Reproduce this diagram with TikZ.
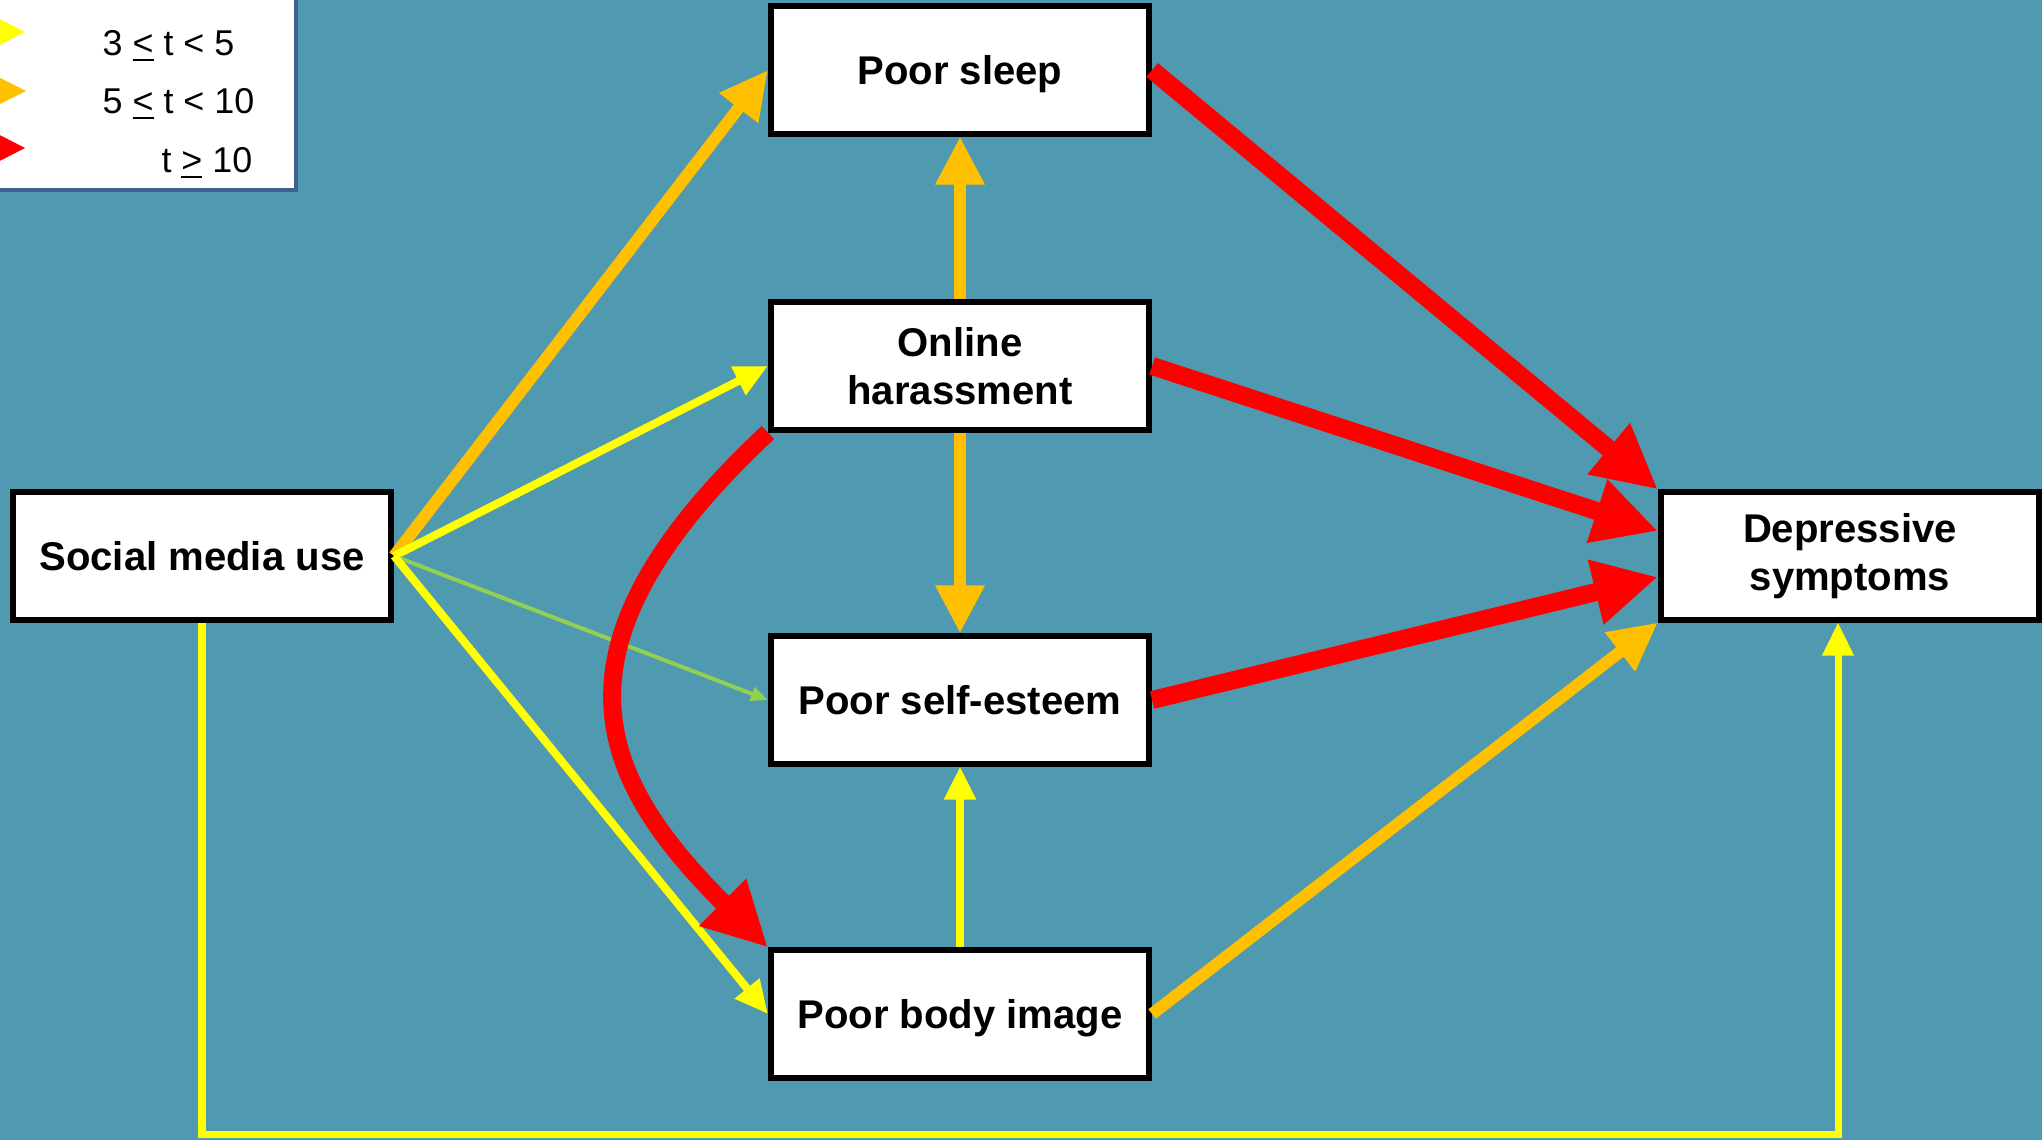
\documentclass[tikz,border=0pt]{standalone}
\usepackage{fontspec}
\setmainfont{Liberation Sans}
\usetikzlibrary{arrows.meta,positioning}
\definecolor{bgteal}{HTML}{4F9AB0}
\definecolor{tyel}{HTML}{FFFF00}
\definecolor{torange}{HTML}{FFC000}
\definecolor{tred}{HTML}{FF0000}
\definecolor{tgreen}{HTML}{92D050}
\definecolor{legframe}{HTML}{3F6190}
\tikzset{
  var/.style    ={rectangle, draw, fill=white, line width=1.7pt,
                  minimum width=3.78cm, minimum height=1.27cm, inner sep=2pt,
                  font=\fontsize{11.4}{13.7}\selectfont\bfseries, align=center},
  oneline/.style={text height=1.05em, text depth=0.21em},
  legtxt/.style ={font=\fontsize{10.2}{12}\selectfont, inner sep=0pt},
  tlow/.style   ={draw=tgreen, line width=0.04cm,
                  -{Triangle[length=0.17cm,width=0.14cm]}},
  tmid/.style   ={draw=tyel, line width=0.08cm,
                  -{Triangle[length=0.33cm,width=0.3cm]}},
  thigh/.style  ={draw=torange, line width=0.12cm,
                  -{Triangle[length=0.48cm,width=0.46cm]}},
  ttop/.style   ={draw=tred, line width=0.18cm,
                  -{Triangle[length=0.64cm,width=0.62cm]}},
}

\begin{document}
\begin{tikzpicture}[x=0.01cm, y=-0.01cm]
\fill[bgteal] (0,0) rectangle (2042,1140);
\useasboundingbox (0,0) rectangle (2042,1140);

% legend
\filldraw[fill=white, draw=legframe, line width=0.04cm] (-30,-30) rectangle (296,190);
\fill[tyel]    (-10,14)  -- (25,32)  -- (-10,50)  -- cycle;
\fill[torange] (-10,73)  -- (26,91)  -- (-10,109) -- cycle;
\fill[tred]    (-10,130) -- (25,148) -- (-10,166) -- cycle;
\node[legtxt, anchor=west] (lg3)  at (102,46)  {3 \underline{<} t < 5};
\node[legtxt, anchor=west] (lg5)  at (102,104) {5 \underline{<} t < 10};
\node[legtxt, anchor=east] (lg10) at (253,163) {t \underline{>} 10};

\node[var, oneline] (smu) at (202,556)  {Social media use};
\node[var, oneline] (ps)  at (960,70)   {Poor sleep};
\node[var]          (oh)  at (960,366)  {Online\\harassment};
\node[var, oneline] (pse) at (960,700)  {Poor self-esteem};
\node[var, oneline] (pbi) at (960,1014) {Poor body image};
\node[var]          (ds)  at (1850,556) {Depressive\\symptoms};
\coordinate (dsb) at ([xshift=-0.12cm]ds.south);

\draw[thigh] (smu.east) -- (ps.west);
\draw[tmid]  (smu.east) -- (oh.west);
\draw[tlow]  (smu.east) -- (pse.west);
\draw[tmid]  (smu.east) -- (pbi.west);
\draw[tmid, line width=0.07cm] (smu.south) -- ++(0,512) -| (dsb);

\draw[thigh] (oh.north) -- (ps.south);
\draw[thigh] (oh.south) -- (pse.north);
\draw[tmid]  (pbi.north) -- (pse.south);
\draw[ttop]  (oh.south west) .. controls (535,650) and (600,780) .. (pbi.north west);

\draw[ttop]  (ps.east) -- (ds.north west);
\draw[ttop]  (oh.east) -- ([yshift=0.25cm]ds.west);
\draw[ttop]  (pse.east) -- ([yshift=-0.21cm]ds.west);
\draw[thigh] (pbi.east) -- (ds.south west);
\end{tikzpicture}
\end{document}
